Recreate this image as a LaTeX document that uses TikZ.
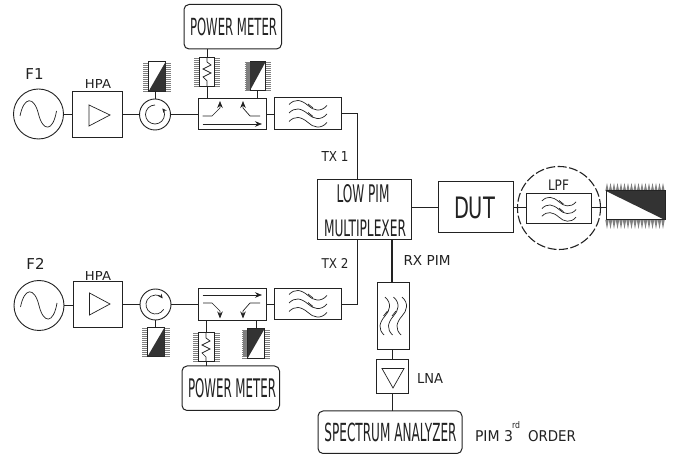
\documentclass[tikz,border=0pt]{standalone}
\usepackage{fontspec}
\usepackage{graphicx}
\setmainfont{DejaVu Sans}
\usetikzlibrary{arrows.meta}
\definecolor{ink}{HTML}{222222}
\definecolor{darkfill}{HTML}{333333}
\newcommand\fitto[3]{\resizebox{#1pt}{#2pt}{#3}}
\tikzset{
 wire/.style={draw=ink,line width=.95pt},
 blockbox/.style={draw=ink,line width=1pt,fill=white,inner sep=0pt,outer sep=0pt},
 roundbox/.style={blockbox,rounded corners=5pt},
 srcring/.style={circle,draw=ink,line width=.9pt,fill=white,inner sep=0pt,outer sep=0pt,minimum size=50pt},
 circring/.style={circle,draw=ink,line width=.9pt,fill=white,inner sep=0pt,outer sep=0pt,minimum size=31pt},
 biglab/.style={inner sep=0pt,text=ink,font=\fontsize{15}{16}\selectfont},
 fittext/.style={inner sep=0pt,text=ink},
 thin line/.style={draw=ink,line width=.7pt},
 comb/.style={draw=black!50,line width=.8pt},
 headtip/.style={-{Stealth[length=7pt,width=5.5pt]}},
 smalltip/.style={-{Stealth[length=4.5pt,width=4pt]}},
}
% box from corners: name, style, x1,y1,x2,y2
\newcommand\bx[6]{\pgfmathsetmacro\wdd{#5-#3}\pgfmathsetmacro\htt{#6-#4}\pgfmathsetmacro\cxx{(#3+#5)/2}\pgfmathsetmacro\cyy{(#4+#6)/2}%
 \node[#2,minimum width=\wdd pt,minimum height=\htt pt] (#1) at (\cxx,\cyy) {};}
% three waves around a centre, optional rotation and scale
\newcommand\waves[4]{\begin{scope}[shift={(#1,#2)},rotate=#3,scale=#4]
 \foreach \d in {-8.5,0,8.5}{
  \draw[thin line] (-19,\d-1) .. controls (-13,\d-7) and (-7,\d-6) .. (0,\d) .. controls (5,\d+5) and (13,\d+7) .. (19,\d+0);}
 \draw[thin line] (0,-10) -- (5,-6) (0,-1.5) -- (5,2.5);
 \end{scope}}
% side combs of a load
\newcommand\sidecomb[3]{\foreach \yy in {0,2,...,28}{\draw[comb] (#1-5.5,#2+\yy) -- (#1,#2+\yy) (#3,#2+\yy) -- (#3+5.5,#2+\yy);}}
\begin{document}
\begin{tikzpicture}[x=1pt,y=-1pt]
\useasboundingbox (0,0) rectangle (678,454);
% ---- upper chain
\node[srcring] (s1) at (38.5,114) {};
\draw[thin line] (20,116) .. controls (24,96) and (34,96) .. (38.5,114) .. controls (43,132) and (53,132) .. (56.5,111);
\bx{a1}{blockbox}{72}{91.5}{122}{138}
\draw[thin line] (89,105) -- (89,126) -- (110,115) -- cycle;
\node[circring] (c1) at (155,114.5) {};
\draw[thin line,smalltip] (155,105) arc[start angle=-90,end angle=-400,radius=9.5] ;
\sidecomb{148.5}{63}{165.5}
\bx{l1}{blockbox}{148.5}{62}{165.5}{91.5}
\fill[darkfill] (148.5,91.5) -- (165.5,62) -- (165.5,91.5) -- cycle;
\bx{cp1}{blockbox}{198}{99}{266}{130}
\sidecomb{199.5}{58}{214.5}
\bx{r1}{blockbox}{199.5}{57.5}{214.5}{87}
\draw[thin line] (207,57.5) -- (207,62) -- (211,65) -- (203,69) -- (211,73) -- (203,77) -- (207,81) -- (207,87);
\sidecomb{250}{62}{265.5}
\foreach \xx in {246,247,248,249}{\draw[comb] (\xx,62) -- (\xx,90);}
\bx{l2}{blockbox}{250}{62}{265.5}{90.5}
\fill[darkfill] (250,90.5) -- (265.5,62) -- (250,62) -- cycle;
\bx{pm1}{roundbox}{184}{4.5}{281.5}{49}
\node[fittext] (pm1t) at (233.5,27) {\fitto{87}{17.5}{POWER METER}};
\bx{f1}{blockbox}{274.5}{98}{341}{129.5}
\waves{308}{114}{0}{1}
\draw[thin line,headtip] (202.5,116) -- (212,116) -- (220,108) -- (220,101);
\draw[thin line,headtip] (260,116) -- (250,116) -- (243,108) -- (243,101);
\draw[thin line,headtip] (202.5,124) -- (262,124);
% ---- lower chain
\node[srcring] (s2) at (39,305.5) {};
\draw[thin line] (20.5,307) .. controls (24.5,287) and (34.5,287) .. (39,305.5) .. controls (43.5,324) and (53.5,324) .. (57,303);
\bx{a2}{blockbox}{73}{281.5}{122}{327.5}
\draw[thin line] (89.5,293) -- (89.5,315) -- (110,304) -- cycle;
\node[circring] (c2) at (155.5,304.5) {};
\draw[thin line,smalltip] (163.7,309.25) arc[start angle=30,end angle=320,radius=9.5];
\sidecomb{147.5}{328}{164.5}
\bx{l3}{blockbox}{147.5}{327.5}{164.5}{356.5}
\fill[darkfill] (147.5,356.5) -- (164.5,327.5) -- (164.5,356.5) -- cycle;
\bx{cp2}{blockbox}{198}{289}{266}{320.5}
\sidecomb{198.5}{333}{214.5}
\bx{r2}{blockbox}{198.5}{332.5}{214.5}{362}
\draw[thin line] (206,332.5) -- (206,338) -- (210,341) -- (202,345) -- (210,349) -- (202,353) -- (206,357) -- (206,362);
\sidecomb{247.5}{330}{264.5}
\foreach \xx in {243,244,245,246}{\draw[comb] (\xx,330) -- (\xx,357);}
\bx{l4}{blockbox}{247.5}{329}{264.5}{358.5}
\fill[darkfill] (247.5,358.5) -- (264.5,329) -- (247.5,329) -- cycle;
\bx{pm2}{roundbox}{182}{366}{279.5}{410.5}
\node[fittext] (pm2t) at (232,388.5) {\fitto{88}{19}{POWER METER}};
\bx{f2}{blockbox}{274.5}{288.5}{341.5}{320}
\waves{308}{304}{0}{1}
\draw[thin line,headtip] (202.5,295) -- (262,295);
\draw[thin line,headtip] (203,303) -- (212,303) -- (220,311) -- (220,318.5);
\draw[thin line,headtip] (260,303) -- (250,303) -- (243,311) -- (243,318.5);
% ---- centre and right
\bx{mux}{blockbox}{317}{180}{411.5}{240}
\node[fittext] (muxa) at (363,194) {\fitto{53}{18}{LOW PIM}};
\node[fittext] (muxb) at (365,228.5) {\fitto{82}{16.5}{MULTIPLEXER}};
\bx{dut}{blockbox}{438}{182}{513}{232.5}
\node[fittext] (dutt) at (474.5,207.5) {\fitto{41}{21.5}{DUT}};
\node[circle,draw=ink,line width=1.1pt,dash pattern=on 9pt off 2.5pt,minimum size=83pt,inner sep=0pt,outer sep=0pt] (ring) at (559,208) {};
\bx{lpf}{blockbox}{526}{194}{591.5}{223.5}
\waves{559}{209.5}{0}{.9}
\foreach \xx in {607,610.5,...,664}{\fill[black!50] (\xx-1.7,191) -- (\xx,183) -- (\xx+1.7,191) -- cycle;
 \fill[black!50] (\xx-1.7,220) -- (\xx,229) -- (\xx+1.7,220) -- cycle;}
\bx{term}{blockbox}{606}{191}{665}{220}
\fill[darkfill] (606,191) -- (665,191) -- (665,220) -- cycle;
\bx{rxf}{blockbox}{377.5}{282.5}{409.5}{350}
\waves{393.5}{316}{90}{1}
\bx{lna}{blockbox}{376}{360}{408.5}{394}
\draw[thin line] (382,368.5) -- (404,368.5) -- (393,388) -- cycle;
\bx{sa}{roundbox}{318}{411}{462}{453.5}
\node[fittext] (sat) at (390.5,432.5) {\fitto{132}{18.5}{SPECTRUM ANALYZER}};
% ---- connectors
\draw[wire] (s1) ++(25,0) -- (a1.west |- s1);
\draw[wire] (a1.east |- c1) -- (c1.west);
\draw[wire] (c1.east) -- (cp1.west |- c1);
\draw[wire] (c1.north) -- (l1.south -| c1);
\draw[wire] (pm1.south -| r1) -- (r1.north);
\draw[wire] (r1.south) -- (cp1.north -| r1);
\draw[wire] (l2.south) -- (cp1.north -| l2);
\draw[wire] (cp1.east) -- (f1.west |- cp1);
\draw[wire] (f1.east) -| (mux.north -| 357,0);
\draw[wire] (s2) ++(25,0) -- (a2.west |- s2);
\draw[wire] (a2.east |- c2) -- (c2.west);
\draw[wire] (c2.east) -- (cp2.west |- c2);
\draw[wire] (c2.south) -- (l3.north -| c2);
\draw[wire] (cp2.south -| r2) -- (r2.north);
\draw[wire] (r2.south) -- (pm2.north -| r2);
\draw[wire] (cp2.south -| l4) -- (l4.north);
\draw[wire] (cp2.east) -- (f2.west |- cp2);
\draw[wire] (f2.east) -| (mux.south -| 357,0);
\draw[wire] (mux.east |- dut) -- (dut.west);
\draw[wire] (dut.east) -- (lpf.west |- dut);
\draw[wire] (lpf.east |- dut) -- (term.west |- dut);
\draw[wire,line width=1.3pt] (mux.south -| rxf) ++(-1.5,0) -- ++(0,42.5);
\draw[wire] (rxf.south -| lna) -- (lna.north);
\draw[wire] (lna.south) -- (sa.north -| lna);
% ---- labels
\node[biglab] (tf1) at (34.5,74) {F1};
\node[fittext] (th1) at (98,84.5) {\fitto{26}{9}{HPA}};
\node[biglab] (tf2) at (35.5,264) {F2};
\node[fittext] (th2) at (98,276) {\fitto{26}{9}{HPA}};
\node[fittext] (ttx1) at (335,157) {\fitto{27}{10}{TX 1}};
\node[fittext] (ttx2) at (335,264) {\fitto{27}{10}{TX 2}};
\node[fittext] (trx) at (427,260.5) {\fitto{47}{10}{RX PIM}};
\node[fittext] (tlna) at (430,378.5) {\fitto{26}{10}{LNA}};
\node[fittext] (tlpf) at (558.5,185) {\fitto{21}{10.5}{LPF}};
\node[fittext] (tpim) at (494,436) {\fitto{38}{11}{PIM 3}};
\node[fittext] (trd) at (516,425) {\fitto{8}{7}{rd}};
\node[fittext] (tord) at (552,436) {\fitto{48}{11}{ORDER}};
\end{tikzpicture}
\end{document}
